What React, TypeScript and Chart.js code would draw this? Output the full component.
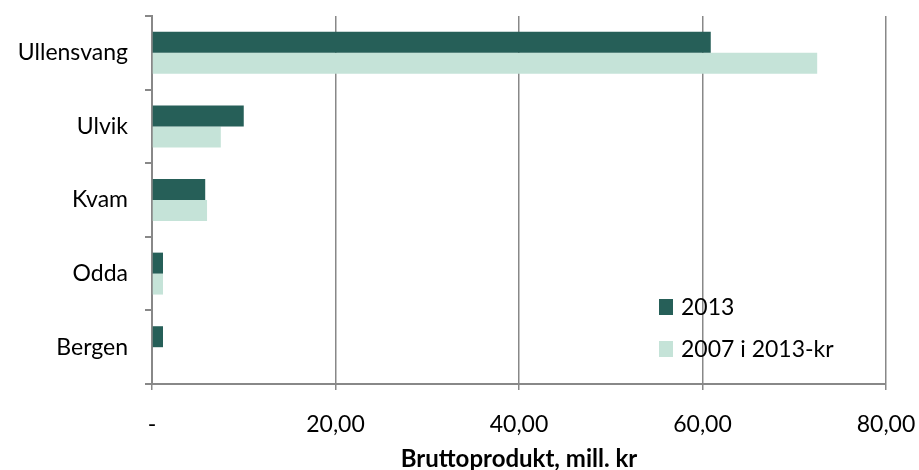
import React, { useEffect, useRef } from "react";
import { Chart, registerables } from "chart.js";

Chart.register(...registerables);

const categories = ["Ullensvang", "Ulvik", "Kvam", "Odda", "Bergen"];
const series2013 = [60.9, 10.0, 5.8, 1.2, 1.2];
const series2007 = [72.5, 7.5, 6.0, 1.2, 0];
const seriesLabels = ["2013", "2007 i 2013-kr"];
const axisTitle = "Bruttoprodukt, mill. kr";
const xTicks = [0, 20, 40, 60, 80];

const DARK = "#265f58";
const LIGHT = "#c5e3d8";
const GRID = "#888888";
const FONT = "Lato, 'Open Sans', sans-serif";

const legendPlugin = {
  id: "insideLegend",
  afterDraw(chart: any) {
    const { ctx, chartArea } = chart;
    const x0 = chartArea.left + 507;
    const rows = [
      { y: 307, color: DARK, text: seriesLabels[0] },
      { y: 349, color: LIGHT, text: seriesLabels[1] },
    ];
    ctx.save();
    ctx.font = `23px ${FONT}`;
    ctx.textBaseline = "middle";
    ctx.textAlign = "left";
    rows.forEach((r) => {
      ctx.fillStyle = r.color;
      ctx.fillRect(x0, r.y - 8, 14, 16);
      ctx.fillStyle = "#000";
      ctx.fillText(r.text, x0 + 22, r.y + 1);
    });
    ctx.restore();
  },
};

export default function App() {
  const ref = useRef<HTMLCanvasElement>(null);
  useEffect(() => {
    const chart = new Chart(ref.current as HTMLCanvasElement, {
      type: "bar",
      data: {
        labels: categories,
        datasets: [
          {
            label: seriesLabels[0],
            data: series2013,
            backgroundColor: DARK,
            categoryPercentage: 0.57,
            barPercentage: 1.0,
          },
          {
            label: seriesLabels[1],
            data: series2007,
            backgroundColor: LIGHT,
            categoryPercentage: 0.57,
            barPercentage: 1.0,
          },
        ],
      },
      options: {
        indexAxis: "y",
        responsive: false,
        animation: false,
        layout: { padding: { top: 16, right: 33, left: 0, bottom: 0 } },
        plugins: {
          legend: { display: false },
          tooltip: { enabled: false },
        },
        scales: {
          x: {
            min: 0,
            max: 80,
            afterBuildTicks: (scale: any) => {
              scale.ticks = xTicks.map((v) => ({ value: v }));
            },
            afterFit: (scale: any) => {
              scale.height = 86;
              scale.paddingLeft = 0;
              scale.paddingRight = 0;
              scale.paddingTop = 0;
              scale.paddingBottom = 0;
            },
            border: { display: true, color: GRID, width: 2 },
            grid: {
              color: (c: any) => (c.tick && c.tick.value === 0 ? "rgba(0,0,0,0)" : GRID),
              lineWidth: 1.5,
              tickLength: 6,
              tickColor: GRID,
              drawTicks: true,
            },
            ticks: {
              color: "#000",
              font: { family: FONT, size: 23 },
              padding: 21,
              maxRotation: 0,
              callback: (v: any) => (Number(v) === 0 ? "-" : Number(v).toFixed(2).replace(".", ",")),
            },
            title: {
              display: true,
              text: axisTitle,
              color: "#000",
              font: { family: FONT, size: 24, weight: "bold" },
              padding: { top: 0, bottom: -4 },
            },
          },
          y: {
            afterFit: (scale: any) => {
              scale.width = 152;
              scale.paddingLeft = 0;
              scale.paddingRight = 0;
              scale.paddingTop = 0;
              scale.paddingBottom = 0;
            },
            border: { display: true, color: GRID, width: 2 },
            grid: {
              offset: true,
              drawOnChartArea: false,
              tickLength: 7,
              tickColor: GRID,
              lineWidth: 2,
            },
            ticks: {
              color: "#000",
              font: { family: FONT, size: 23 },
              padding: 17,
            },
          },
        },
      },
      plugins: [legendPlugin],
    });
    return () => chart.destroy();
  }, []);
  return (
    <div style={{ position: "absolute", left: 0, top: 0, width: 919, height: 470, background: "#fff" }}>
      <canvas ref={ref} width={919} height={470} style={{ width: 919, height: 470 }} />
    </div>
  );
}
